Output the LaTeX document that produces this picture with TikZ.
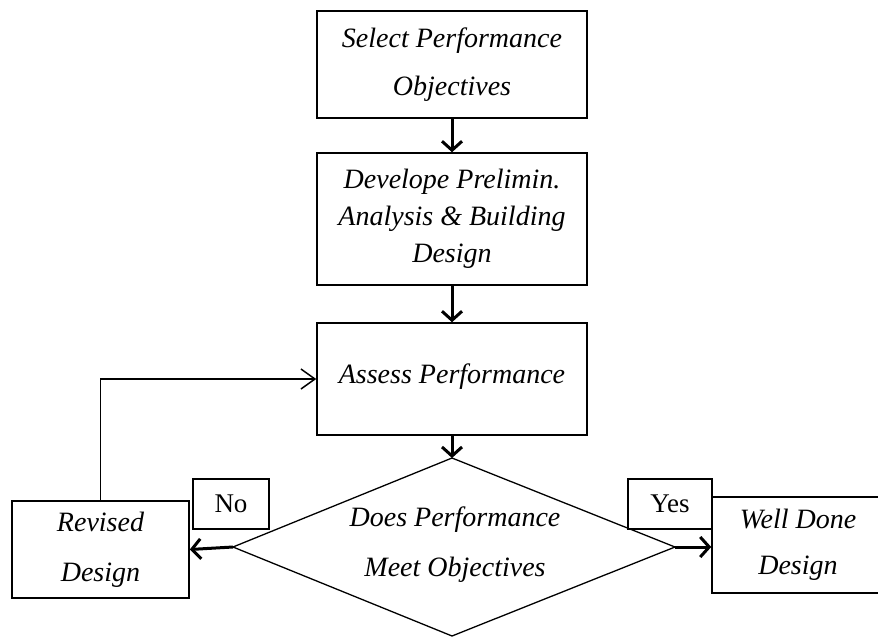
\documentclass[tikz,border=0pt]{standalone}
\usepackage{fontspec}
\setmainfont{Liberation Serif}
\usetikzlibrary{arrows.meta}
\begin{document}
\begin{tikzpicture}[x=1pt,y=-1pt,
  box/.style={draw, line width=1.5pt, inner sep=0pt, align=center, font=\itshape\fontsize{28}{48}\selectfont},
  tightbox/.style={box, font=\itshape\fontsize{28}{37}\selectfont},
  lbl/.style={draw, line width=1.5pt, inner sep=0pt, font=\fontsize{27}{30}\selectfont},
  dtext/.style={inner sep=0pt, align=center, font=\itshape\fontsize{28}{50}\selectfont},
  bigarrow/.style={line width=3pt, -{Straight Barb[length=9pt,width=20pt,line width=3pt]}},
  thinarrow/.style={line width=1.5pt, -{Straight Barb[length=14pt,width=20pt,line width=1.5pt]}}]
\useasboundingbox (0,0) rectangle (878,637);
% main column
\node[box, minimum width=270pt, minimum height=107pt] (b1) at (452,64.5) {Select Performance\\Objectives};
\node[tightbox, minimum width=270pt, minimum height=132pt] (b2) at (452,219) {Develope Prelimin.\\Analysis \& Building\\Design};
\node[box, minimum width=270pt, minimum height=112pt] (b3) at (452,379) {\raisebox{10pt}{Assess Performance}};
% decision diamond
\coordinate (dt) at (452,458);
\coordinate (dr) at (675,547);
\coordinate (db) at (452,636);
\coordinate (dl) at (233,547);
\draw[line width=1.3pt, line join=miter] (dt) -- (dr) -- (db) -- (dl) -- cycle;
\node[dtext] (dq) at (455,545) {Does Performance\\Meet Objectives};
% side boxes
\node[box, font=\itshape\fontsize{28}{50}\selectfont, minimum width=177pt, minimum height=97pt] (rev) at (100.5,549.5) {Revised\\Design};
\node[box, font=\itshape\fontsize{28}{46}\selectfont, minimum width=178pt, minimum height=96pt] (well) at (801,545) {\hspace*{-6pt}Well Done\\\hspace*{-6pt}Design};
\node[lbl, minimum width=76pt, minimum height=50pt] (no) at (231,504) {No};
\node[lbl, minimum width=84pt, minimum height=50pt] (yes) at (670,504) {Yes};
% connectors
\draw[bigarrow] (b1.south) -- (b2.north);
\draw[bigarrow] (b2.south) -- (b3.north);
\draw[bigarrow] (b3.south) -- (dt);
\draw[bigarrow] (dl) -- (rev.east);
\draw[bigarrow] (dr) -- (well.west |- dr);
\draw[thinarrow] (rev.north) |- (b3.west);
\end{tikzpicture}
\end{document}
